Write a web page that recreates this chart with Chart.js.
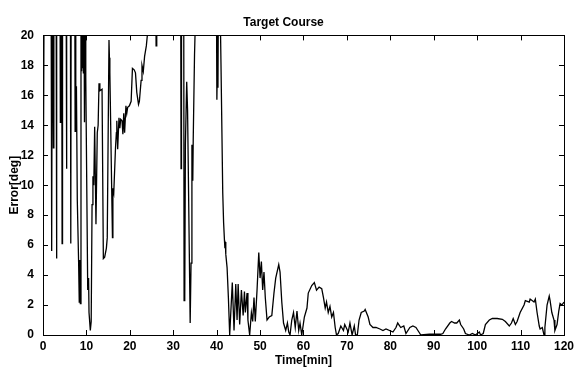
<!DOCTYPE html>
<html>
<head>
<meta charset="utf-8">
<title>Target Course</title>
<script src="https://cdn.jsdelivr.net/npm/chart.js@4/dist/chart.umd.min.js"></script>
<style>
  body { margin: 0; background: #fff; }
  #chart { display: block; }
</style>
</head>
<body>
<canvas id="chart" width="578" height="372"></canvas>
<script>
// time in minutes, error in degrees (values above 20 are clipped by the axis)
var timeMin = [
  0, 0.3, 1.85, 2.0, 2.15, 2.3, 2.4, 2.5, 3.0, 3.1, 3.2, 3.9, 4.0, 4.1, 4.3, 4.4, 4.5,
  5.3, 5.4, 5.5, 6.3, 6.4, 6.5, 7.3, 7.4, 7.5, 7.6, 7.7, 7.9, 8.2, 8.35, 8.45, 8.6, 8.75,
  8.9, 9.0, 9.1, 9.2, 9.3, 9.4, 9.55, 9.7, 9.85, 10.3, 10.5, 10.6, 10.9, 11.1, 11.3, 11.5,
  11.7, 11.9, 12.2, 12.5, 12.7, 12.9, 13.1, 13.6, 13.9, 14.2, 14.6, 14.8, 15.2, 15.3, 15.4,
  16.0, 16.1, 16.3, 16.7, 16.9, 17.0, 17.2, 17.5, 17.7, 17.9, 18.2, 18.4, 18.6, 18.8, 19.1,
  19.3, 19.5, 19.9, 20.3, 20.6, 21.0, 21.3, 21.6, 22.0, 22.2, 22.6, 22.8, 23.1, 23.4, 23.8,
  24.2, 24.5, 25.9, 26.05, 26.2, 31.7, 31.8, 31.9, 32.4, 32.5, 32.6, 32.7, 32.8, 33.1, 33.3,
  33.9, 34.1, 34.3, 34.5, 34.6, 34.9, 35.1, 35.3, 39.9, 40.05, 40.2, 40.3, 40.45, 40.8, 41.0,
  41.4, 41.6, 41.8, 41.9, 42.0, 42.1, 42.4, 42.7, 43.0, 43.6, 44.0, 44.4, 44.7, 44.95, 45.3,
  45.7, 46.1, 46.4, 46.6, 47.0, 47.2, 47.6, 48.0, 48.3, 48.6, 48.9, 49.3, 49.7, 50.0, 50.3,
  50.6, 50.9, 51.2, 51.6, 52.1, 52.7, 53.2, 53.6, 54.3, 54.6, 55.0, 55.4, 55.9, 56.3, 56.6,
  56.9, 57.3, 57.7, 58.1, 58.5, 58.9, 59.2, 59.6, 60.2, 60.8, 61.1, 61.9, 62.5, 63.0, 63.6,
  64.2, 64.6, 65.0, 65.3, 65.7, 66.1, 66.5, 66.9, 67.3, 67.6, 68.0, 68.6, 69.2, 69.5, 70.3,
  70.7, 71.2, 71.7, 72.0, 72.4, 72.8, 73.3, 74.0, 74.2, 74.9, 75.3, 76.0, 76.7, 77.6, 78.3,
  79.0, 80.6, 81.3, 81.7, 82.4, 83.1, 83.6, 84.5, 85.2, 85.9, 86.8, 87.0, 89.0, 91.6, 92.1,
  92.7, 93.7, 94.1, 94.8, 95.3, 95.9, 96.2, 96.9, 97.3, 98.2, 98.9, 99.6, 100.5, 100.8, 101.4,
  101.9, 102.8, 103.5, 104.6, 105.8, 106.5, 107.4, 107.9, 108.3, 108.8, 109.2, 109.9, 110.8,
  111.1, 112.0, 112.2, 113.1, 113.4, 113.8, 114.3, 114.5, 115.0, 115.4, 115.6, 116.1, 116.6,
  116.8, 117.2, 117.7, 117.9, 118.4, 118.8, 119.1, 119.5, 120
];
var errorDeg = [
  4.7, 26, 26, 5.6, 26, 26, 12.5, 26, 26, 5.1, 26, 26, 14.2, 26, 26, 6.1, 26,
  26, 11.1, 26, 26, 6.1, 26, 26, 13.6, 26, 14.5, 16.6, 9.0, 4.9, 2.2, 5.0, 2.1, 26,
  17.6, 26, 17.8, 26, 17.5, 26, 14.2, 26, 17.2, 3.0, 3.8, 1.5, 0.3, 0.9, 8.7, 10.6,
  10.0, 13.9, 7.4, 13.5, 14.0, 16.8, 16.3, 16.4, 5.1, 5.2, 5.8, 6.5, 19.7, 18.5, 17.5,
  6.5, 9.8, 9.5, 12.5, 13.5, 14.3, 12.4, 14.5, 13.8, 14.4, 14.3, 13.4, 14.8, 13.5, 15.3,
  14.8, 15.2, 15.3, 15.6, 17.8, 17.7, 17.5, 16.2, 15.4, 15.6, 17.0, 18.0, 17.6, 18.6, 19.3,
  20.5, 26, 26, 19.3, 26, 26, 11.1, 26, 26, 2.3, 4.2, 2.5, 12.7, 16.9, 15.0,
  0.8, 4.8, 12.7, 10.3, 13.0, 18.7, 21, 26, 26, 15.7, 19.0, 16.5, 26, 22, 18,
  9.5, 7.5, 6.3, 5.8, 6.2, 5.4, 4.5, 2.5, 0, 3.5, 0.3, 3.4, 1.0, 3.4, 0.7,
  3.0, 1.3, 2.9, 1.5, 2.8, 1.0, 0, 1.5, 0.9, 2.5, 0.9, 3.0, 5.5, 3.8, 4.9,
  3.0, 4.2, 2.5, 1.0, 1.2, 1.3, 2.8, 3.8, 4.7, 4.2, 2.2, 0.8, 0.3, 0.8, 0.2,
  0, 1.0, 1.5, 0.5, 1.6, 0.3, 0.8, 0, 1.2, 1.8, 2.8, 3.3, 3.5, 3.0, 3.2,
  3.1, 2.5, 1.8, 2.2, 1.5, 1.9, 1.2, 1.5, 0.5, 0, 0.1, 0.6, 0.3, 0.7, 0.2,
  0.8, 0, 0.6, 0, 0, 1.0, 1.5, 1.6, 1.7, 1.2, 0.7, 0.5, 0.5, 0.4, 0.3,
  0.4, 0.2, 0.5, 0.8, 0.5, 0.6, 0.1, 0.5, 0.6, 0.5, 0.1, 0, 0.05, 0.05, 0.1,
  0.4, 0.8, 0.9, 0.8, 0.8, 1.0, 0.7, 0.4, 0.1, 0, 0.1, 0, 0.2, 0, 0.1,
  0.7, 1.0, 1.1, 1.1, 1.05, 0.9, 0.6, 0.8, 1.1, 0.7, 0.9, 1.5, 2.0,
  2.3, 2.2, 2.4, 2.2, 2.4, 1.5, 0.6, 0.4, 0.5, 0, 0.5, 2.0, 2.6,
  2.3, 1.5, 1.0, 0.3, 0.7, 1.6, 2.1, 2.0, 2.2
];
var xTicks = [0, 10, 20, 30, 40, 50, 60, 70, 80, 90, 100, 110, 120];
var yTicks = [0, 2, 4, 6, 8, 10, 12, 14, 16, 18, 20];

var points = timeMin.map(function (t, i) {
  return { x: t, y: errorDeg[i] };
});

var labelFont = { family: "'Liberation Sans', Arial, sans-serif", size: 12, weight: "bold" };

// matlab style box with inward ticks on all four sides
var boxTicks = {
  id: "boxTicks",
  afterDatasetsDraw: function (chart) {
    var ctx = chart.ctx;
    var area = chart.chartArea;
    var xs = chart.scales.x;
    var ys = chart.scales.y;
    var len = 5;
    ctx.save();
    ctx.strokeStyle = "#000";
    ctx.lineWidth = 1;
    ctx.beginPath();
    xTicks.forEach(function (v) {
      var px = Math.round(xs.getPixelForValue(v)) + 0.5;
      ctx.moveTo(px, area.bottom);
      ctx.lineTo(px, area.bottom - len);
      ctx.moveTo(px, area.top);
      ctx.lineTo(px, area.top + len);
    });
    yTicks.forEach(function (v) {
      var py = Math.round(ys.getPixelForValue(v)) + 0.5;
      ctx.moveTo(area.left, py);
      ctx.lineTo(area.left + len, py);
      ctx.moveTo(area.right, py);
      ctx.lineTo(area.right - len, py);
    });
    ctx.stroke();
    ctx.strokeRect(Math.round(area.left) + 0.5, Math.round(area.top) + 0.5,
      Math.round(area.right - area.left), Math.round(area.bottom - area.top));
    ctx.restore();
  }
};

Chart.defaults.color = "#000";

new Chart(document.getElementById("chart"), {
  type: "line",
  data: {
    datasets: [
      {
        label: "Error",
        data: points,
        borderColor: "#000",
        borderWidth: 1.3,
        pointRadius: 0,
        tension: 0,
        fill: false,
        clip: 0
      }
    ]
  },
  options: {
    responsive: false,
    animation: false,
    events: [],
    layout: { padding: { left: 0, right: 11, top: 0, bottom: 0 } },
    plugins: {
      legend: { display: false },
      tooltip: { enabled: false },
      title: {
        display: true,
        text: "Target Course",
        font: labelFont,
        color: "#000",
        padding: { top: 15, bottom: 6 }
      }
    },
    scales: {
      x: {
        type: "linear",
        min: 0,
        max: 120,
        afterFit: function (scale) { scale.height = 37; },
        afterBuildTicks: function (scale) {
          scale.ticks = xTicks.map(function (v) { return { value: v }; });
        },
        grid: { display: false, drawTicks: false },
        border: { display: false },
        ticks: { font: labelFont, padding: 4, maxRotation: 0 },
        title: {
          display: true,
          text: "Time[min]",
          font: labelFont,
          padding: { top: 0, bottom: 4 }
        }
      },
      y: {
        type: "linear",
        min: 0,
        max: 20,
        afterFit: function (scale) { scale.width = 43; },
        afterBuildTicks: function (scale) {
          scale.ticks = yTicks.map(function (v) { return { value: v }; });
        },
        grid: { display: false, drawTicks: false },
        border: { display: false },
        ticks: { font: labelFont, padding: 9 },
        title: {
          display: true,
          text: "Error[deg]",
          font: labelFont,
          padding: { top: 7, bottom: 0 }
        }
      }
    }
  },
  plugins: [boxTicks]
});
</script>
</body>
</html>
